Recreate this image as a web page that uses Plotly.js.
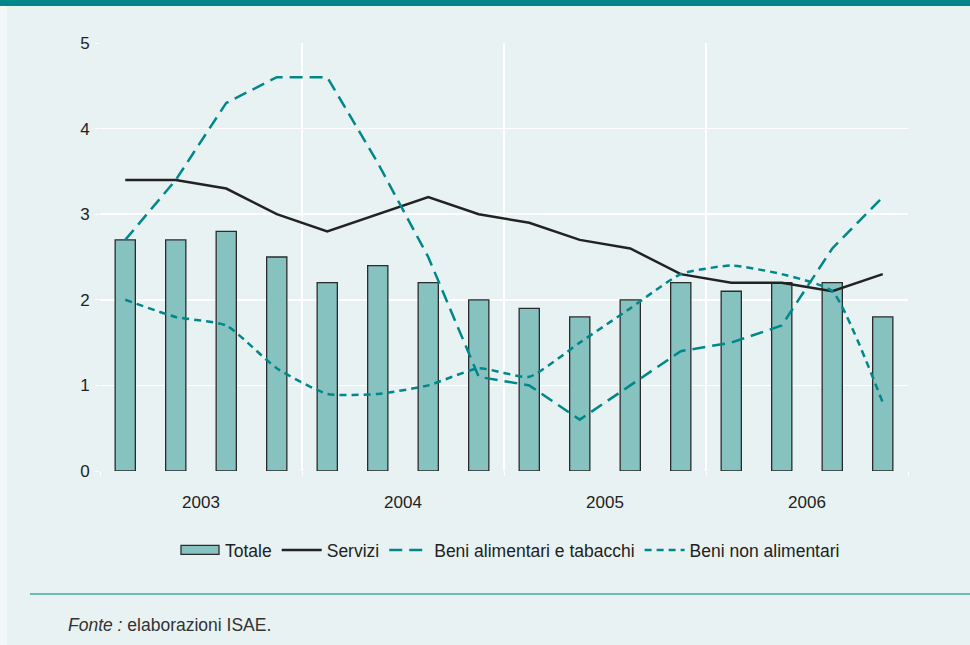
<!DOCTYPE html>
<html>
<head>
<meta charset="utf-8">
<script src="https://cdn.plot.ly/plotly-3.0.1.min.js"></script>
<style>
html,body{margin:0;padding:0;background:#e8f2f3;}
#chart{width:970px;height:645px;}
</style>
</head>
<body>
<div id="chart"></div>
<script>
// Quarterly data 2003Q1 - 2006Q4 (16 quarters)
const quarterPos = [0.5,1.5,2.5,3.5,4.5,5.5,6.5,7.5,8.5,9.5,10.5,11.5,12.5,13.5,14.5,15.5];
const yearLabels = ['2003','2004','2005','2006'];
const yearLabelPos = [2,6,10,14];
const totale   = [2.7,2.7,2.8,2.5,2.2,2.4,2.2,2.0,1.9,1.8,2.0,2.2,2.1,2.2,2.2,1.8];
const servizi  = [3.4,3.4,3.3,3.0,2.8,3.0,3.2,3.0,2.9,2.7,2.6,2.3,2.2,2.2,2.1,2.3];
const alimentari = [2.7,3.4,4.3,4.6,4.6,3.6,2.5,1.1,1.0,0.6,1.0,1.4,1.5,1.7,2.6,3.2];
const nonAlimentari = [2.0,1.8,1.7,1.2,0.9,0.9,1.0,1.2,1.1,1.5,1.9,2.3,2.4,2.3,2.1,0.8];

const teal = '#00878a';
const font = 'Liberation Sans, Arial, Helvetica, sans-serif';

const traces = [
  {type:'bar', name:'Totale', x:quarterPos, y:totale, width:0.4,
   marker:{color:'#85c2c0', line:{color:'#2b2b2b', width:1.3}}},
  {type:'scatter', mode:'lines', name:'Servizi', x:quarterPos, y:servizi,
   line:{color:'#222222', width:2.5}},
  {type:'scatter', mode:'lines', name:'Beni alimentari e tabacchi', x:quarterPos, y:alimentari,
   line:{color:teal, width:2.5, dash:'13px,7px'}},
  {type:'scatter', mode:'lines', name:'Beni non alimentari', x:quarterPos, y:nonAlimentari,
   line:{color:teal, width:2.5, dash:'7px,5px', shape:'spline', smoothing:0.5}}
];

const L=100, R=908, T=43, B=471, W=R-L, H=B-T;
const px = v => (v-L)/W;
const py = v => (B-v)/H;

const layout = {
  width:970, height:645,
  margin:{l:L, r:970-R, t:T, b:645-B, pad:0},
  paper_bgcolor:'#e8f2f3', plot_bgcolor:'#e8f2f3',
  font:{family:font, size:17, color:'#222'},
  showlegend:true,
  bargap:0,
  xaxis:{range:[0,16], tickmode:'array', tickvals:yearLabelPos, ticktext:yearLabels,
    showgrid:false, zeroline:false, showline:false, ticks:'', ticklabelstandoff:19,
    minor:{tickmode:'linear', tick0:0, dtick:4, showgrid:true, gridcolor:'#ffffff', gridwidth:1.5,
      ticks:'outside', ticklen:4, tickcolor:'#ffffff'},
    tickfont:{size:17, color:'#222'}, fixedrange:true},
  yaxis:{range:[0,5], dtick:1, showgrid:true, gridcolor:'#ffffff', gridwidth:1.5,
    zeroline:false, showline:false, ticks:'outside', ticklen:4, tickcolor:'#ffffff',
    ticklabelstandoff:2, tickfont:{size:17, color:'#222'}, fixedrange:true},
  legend:{orientation:'h', x:px(510), xanchor:'center', y:py(550), yanchor:'middle',
    bgcolor:'rgba(0,0,0,0)', font:{size:17.5, color:'#222'}, traceorder:'normal', itemwidth:40},
  shapes:[
    {type:'rect', xref:'paper', yref:'paper', x0:px(0), x1:px(970), y0:py(6), y1:py(0),
     fillcolor:teal, line:{width:0}, layer:'above'},
    {type:'rect', xref:'paper', yref:'paper', x0:px(0), x1:px(7), y0:py(645), y1:py(6),
     fillcolor:'#f2f7f7', line:{width:0}, layer:'below'},
    {type:'line', xref:'paper', yref:'paper', x0:px(30), x1:px(970), y0:py(594), y1:py(594),
     line:{color:'#4aa6a6', width:1.5}}
  ],
  annotations:[
    {xref:'paper', yref:'paper', x:px(66), y:py(625), xanchor:'left', yanchor:'middle',
     showarrow:false, text:'<i>Fonte :</i> elaborazioni ISAE.',
     font:{size:17.5, color:'#333', family:font}}
  ]
};

Plotly.newPlot('chart', traces, layout, {displayModeBar:false, staticPlot:true}).then(gd => {
  // widen the bar legend swatch to a flat rectangle like the original
  gd.querySelectorAll('.legend .legendpoints path.legendundefined, .legend .legendbar path').forEach(p => {
    p.setAttribute('d', 'M19,4.5H-19V-4.5H19Z');
  });
});
</script>
</body>
</html>
